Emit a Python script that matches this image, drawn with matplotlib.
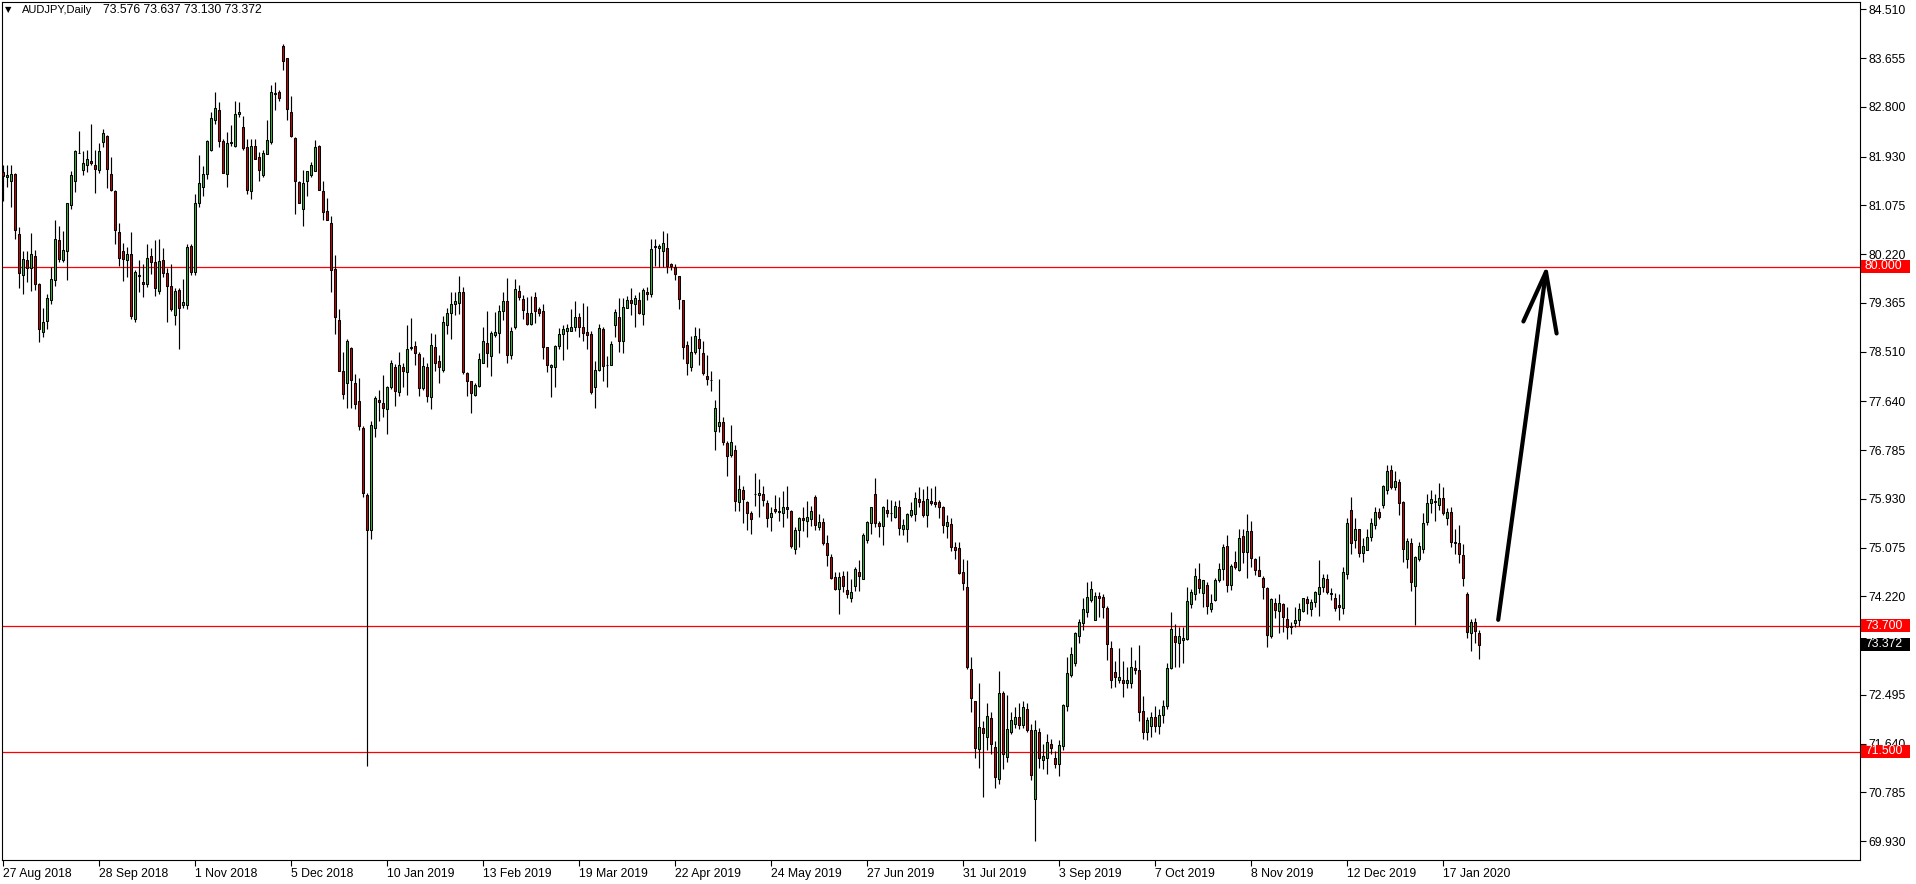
"""AUDJPY daily candlestick chart (MT4 style) with support/resistance levels."""

import matplotlib
matplotlib.use("Agg")
import matplotlib.pyplot as plt
import matplotlib.transforms as mtransforms
from matplotlib.patches import Rectangle
import numpy as np

plt.rcParams["font.family"] = ["Liberation Sans", "DejaVu Sans"]

# Daily OHLC, bar 0 = 27 Aug 2018
OPEN = [
    81.66, 81.58, 81.50, 81.63, 80.58, 79.86, 80.11, 79.97, 80.18, 79.70,
    78.86, 79.05, 79.42, 79.76, 80.47, 80.12, 80.28, 81.09, 81.51, 81.99,
    81.70, 81.78, 81.86, 81.79, 81.69, 82.18, 82.29, 81.63, 81.32, 80.60,
    80.28, 80.11, 80.23, 79.09, 79.85, 79.74, 79.69, 80.18, 80.08, 79.57,
    80.11, 79.89, 79.66, 79.16, 79.59, 79.32, 79.33, 80.36, 79.91, 81.12,
    81.39, 81.63, 82.05, 82.57, 82.74, 82.21, 81.63, 82.16, 82.12, 82.67,
    82.45, 82.09, 81.32, 82.11, 81.93, 81.61, 81.98, 82.19, 83.03, 83.06,
    83.86, 83.65, 82.72, 82.26, 81.48, 81.02, 81.50, 81.61, 81.68, 82.11,
    81.32, 80.98, 80.76, 79.96, 79.07, 78.17, 77.96, 78.57, 77.96, 77.65,
    77.18, 76.00, 75.38, 77.17, 77.67, 77.61, 77.51, 77.89, 78.25, 77.80,
    78.25, 78.15, 78.57, 78.61, 78.47, 77.88, 78.24, 77.71, 78.59, 78.34,
    78.19, 78.98, 79.19, 79.35, 79.36, 79.56, 78.14, 78.00, 77.75, 77.91,
    78.32, 78.66, 78.43, 78.80, 78.84, 79.22, 79.40, 78.45, 78.95, 79.57,
    79.43, 79.19, 79.00, 79.47, 79.26, 79.22, 78.59, 78.24, 78.24, 78.61,
    78.82, 78.87, 78.88, 78.95, 79.12, 78.94, 78.86, 78.82, 77.89, 78.19,
    78.90, 78.28, 78.28, 78.98, 79.12, 78.69, 79.27, 79.42, 79.35, 79.42,
    79.17, 79.56, 79.52, 80.35, 80.33, 80.27, 80.33, 80.04, 79.99, 79.83,
    79.42, 78.62, 78.25, 78.50, 78.73, 78.49, 78.09, 78.02, 77.12, 77.20,
    77.28, 76.91, 76.70, 76.79, 75.88, 76.09, 75.87, 75.68, 76.01, 76.00,
    76.02, 75.86, 75.61, 75.75, 75.71, 75.68, 75.78, 75.72, 75.05, 75.38,
    75.60, 75.54, 75.57, 75.97, 75.43, 75.53, 75.16, 74.92, 74.56, 74.35,
    74.57, 74.34, 74.20, 74.40, 74.65, 74.53, 75.21, 75.50, 76.02, 75.51,
    75.45, 75.74, 75.69, 75.62, 75.78, 75.40, 75.40, 75.65, 75.66, 75.93,
    75.90, 75.65, 75.90, 75.88, 75.88, 75.78, 75.46, 75.49, 75.08, 75.07,
    74.64, 74.38, 72.95, 72.39, 71.54, 71.91, 71.75, 72.09, 71.58, 71.02,
    72.53, 71.40, 71.85, 71.98, 72.10, 71.97, 72.25, 71.88, 70.67, 71.85,
    71.35, 71.38, 71.63, 71.39, 71.28, 71.59, 72.30, 72.84, 73.05, 73.52,
    73.75, 73.94, 74.16, 73.81, 74.23, 74.21, 74.02, 73.31, 72.90, 72.75,
    72.75, 72.70, 72.70, 72.97, 72.93, 72.22, 71.85, 71.95, 72.10, 71.95,
    72.15, 72.30, 72.96, 73.53, 73.40, 73.46, 73.47, 74.09, 74.26, 74.52,
    74.28, 74.42, 74.00, 74.16, 74.51, 74.70, 75.10, 74.42, 74.83, 74.68,
    75.28, 75.00, 75.37, 74.87, 74.68, 74.55, 74.37, 73.52, 74.10, 73.97,
    74.09, 73.82, 73.70, 73.76, 73.81, 73.96, 74.17, 74.00, 74.12, 74.27,
    74.38, 74.52, 74.28, 74.19, 74.07, 74.01, 74.61, 75.73, 75.21, 75.40,
    74.99, 75.04, 75.27, 75.48, 75.70, 75.82, 76.08, 76.43, 76.13, 76.23,
    75.87, 74.87, 75.15, 74.41, 74.87, 75.06, 75.53, 75.85, 75.89, 75.83,
    75.95, 75.60, 75.70, 75.18, 75.15, 74.94, 74.27, 73.58, 73.78, 73.576,
]
HIGH = [
    81.78, 81.79, 81.79, 81.64, 80.70, 80.28, 80.27, 80.59, 80.29, 79.72,
    79.28, 79.52, 80.00, 80.81, 80.71, 80.62, 81.12, 81.67, 82.04, 82.37,
    82.03, 82.05, 82.51, 82.04, 82.16, 82.41, 82.31, 81.93, 81.34, 80.77,
    80.42, 80.35, 80.60, 79.94, 80.11, 80.05, 80.40, 80.33, 80.46, 80.49,
    80.32, 79.97, 80.04, 79.62, 79.62, 79.79, 80.39, 80.40, 81.27, 81.95,
    81.76, 82.22, 82.71, 83.06, 82.89, 82.23, 82.36, 82.48, 82.90, 82.88,
    82.64, 82.24, 82.24, 82.24, 82.01, 82.05, 82.57, 83.19, 83.23, 83.10,
    83.90, 83.65, 83.00, 82.27, 81.50, 81.69, 81.68, 81.84, 82.22, 82.13,
    81.51, 81.21, 80.89, 80.21, 79.26, 78.51, 78.74, 78.59, 78.12, 78.05,
    77.21, 76.03, 77.29, 77.73, 77.84, 78.11, 77.91, 78.36, 78.29, 78.51,
    78.32, 78.98, 79.10, 78.70, 78.50, 78.41, 78.31, 78.83, 78.82, 78.45,
    79.13, 79.27, 79.55, 79.55, 79.84, 79.65, 78.15, 78.00, 77.97, 78.48,
    78.95, 79.23, 78.88, 79.21, 79.33, 79.56, 79.80, 78.95, 79.78, 79.68,
    79.51, 79.47, 79.49, 79.56, 79.29, 79.35, 78.60, 78.29, 78.63, 78.93,
    78.97, 79.00, 79.25, 79.40, 79.18, 79.36, 79.31, 78.88, 78.34, 79.00,
    78.94, 78.44, 78.70, 79.25, 79.46, 79.46, 79.49, 79.63, 79.51, 79.55,
    79.62, 79.64, 80.49, 80.49, 80.39, 80.63, 80.59, 80.06, 80.05, 79.84,
    79.42, 78.70, 78.79, 78.95, 78.93, 78.70, 78.46, 78.18, 77.66, 78.03,
    77.37, 76.94, 77.23, 76.87, 76.35, 76.16, 75.89, 75.72, 76.38, 76.28,
    76.16, 75.91, 75.78, 76.00, 75.96, 76.06, 76.16, 75.73, 75.44, 75.61,
    75.78, 75.90, 75.81, 75.99, 75.66, 75.59, 75.29, 74.96, 74.65, 74.65,
    74.66, 74.67, 74.53, 74.73, 74.85, 75.33, 75.55, 75.79, 76.29, 75.55,
    75.80, 75.92, 75.91, 75.90, 75.91, 75.57, 75.69, 75.87, 76.05, 76.14,
    76.11, 76.16, 76.12, 76.16, 75.91, 75.80, 75.64, 75.59, 75.18, 75.18,
    74.88, 74.85, 73.16, 72.39, 72.70, 72.03, 72.36, 72.19, 71.69, 72.92,
    72.57, 72.50, 72.20, 72.29, 72.36, 72.39, 72.36, 71.98, 72.05, 71.91,
    71.63, 71.80, 71.72, 71.51, 71.71, 72.34, 73.15, 73.33, 73.60, 73.82,
    74.20, 74.48, 74.49, 74.29, 74.29, 74.26, 74.06, 73.44, 73.09, 73.31,
    73.08, 72.98, 73.33, 73.10, 73.37, 72.48, 72.10, 72.20, 72.30, 72.25,
    72.40, 73.06, 73.95, 73.74, 73.69, 73.68, 74.38, 74.35, 74.72, 74.80,
    74.51, 74.47, 74.26, 74.55, 74.80, 75.14, 75.30, 74.79, 75.01, 75.40,
    75.40, 75.66, 75.55, 74.89, 74.93, 74.57, 74.38, 74.20, 74.19, 74.26,
    74.10, 74.03, 73.78, 74.03, 74.10, 74.20, 74.23, 74.17, 74.32, 74.85,
    74.61, 74.61, 74.37, 74.28, 74.26, 74.73, 75.59, 75.96, 75.60, 75.41,
    75.25, 75.41, 75.60, 75.79, 75.77, 76.17, 76.53, 76.52, 76.42, 76.27,
    75.89, 75.25, 75.25, 74.93, 75.18, 75.69, 76.01, 76.08, 76.01, 76.21,
    76.13, 75.77, 75.79, 75.40, 75.47, 75.14, 74.30, 73.82, 73.84, 73.637,
]
LOW = [
    81.16, 81.40, 81.05, 80.49, 79.63, 79.53, 79.73, 79.57, 79.59, 78.68,
    78.77, 78.91, 79.34, 79.66, 80.08, 80.08, 79.77, 81.02, 81.31, 81.99,
    81.60, 81.66, 81.79, 81.29, 81.64, 82.10, 81.38, 81.32, 80.39, 80.02,
    79.75, 79.82, 79.09, 79.03, 79.56, 79.47, 79.64, 79.88, 79.48, 79.53,
    79.82, 79.03, 79.22, 78.97, 78.56, 79.28, 79.26, 79.85, 79.85, 81.04,
    81.24, 81.54, 82.03, 82.50, 82.10, 81.64, 81.39, 82.11, 82.09, 82.62,
    82.04, 81.28, 81.19, 81.89, 81.51, 81.57, 81.97, 82.15, 82.74, 82.90,
    83.44, 82.58, 82.27, 80.93, 81.11, 80.71, 81.24, 81.57, 81.68, 81.34,
    80.82, 80.81, 79.56, 78.82, 78.17, 77.68, 77.52, 77.52, 77.51, 77.14,
    75.97, 71.25, 75.23, 77.01, 77.29, 77.36, 77.07, 77.86, 77.56, 77.74,
    77.89, 77.75, 78.54, 78.27, 77.73, 77.84, 77.62, 77.51, 78.18, 77.96,
    78.15, 78.82, 78.73, 79.16, 79.17, 78.12, 77.73, 77.43, 77.73, 77.90,
    78.31, 78.24, 78.08, 78.77, 78.49, 79.07, 78.32, 78.39, 78.91, 79.42,
    79.08, 78.97, 78.98, 79.02, 79.14, 78.38, 78.15, 77.71, 77.90, 78.55,
    78.36, 78.56, 78.87, 78.88, 78.77, 78.70, 78.56, 77.76, 77.52, 78.18,
    78.00, 77.90, 78.27, 78.77, 78.50, 78.48, 79.27, 79.15, 78.94, 79.17,
    78.98, 79.42, 79.47, 80.01, 79.99, 79.99, 79.89, 79.94, 79.76, 79.26,
    78.38, 78.10, 78.17, 78.47, 78.27, 78.11, 77.93, 77.82, 76.78, 77.11,
    76.88, 76.33, 76.67, 75.71, 75.71, 75.51, 75.38, 75.31, 75.80, 75.61,
    75.81, 75.43, 75.37, 75.68, 75.54, 75.43, 75.59, 75.07, 74.96, 75.08,
    75.37, 75.26, 75.46, 75.38, 75.39, 75.13, 74.76, 74.53, 74.34, 73.91,
    74.29, 74.19, 74.13, 74.32, 74.31, 74.53, 75.15, 75.31, 75.43, 75.26,
    75.12, 75.61, 75.55, 75.59, 75.30, 75.29, 75.17, 75.61, 75.55, 75.78,
    75.61, 75.43, 75.83, 75.78, 75.59, 75.33, 75.24, 75.01, 74.88, 74.61,
    74.33, 72.95, 72.19, 71.38, 71.22, 70.71, 71.53, 71.46, 70.87, 70.94,
    71.19, 71.31, 71.81, 71.91, 71.89, 71.92, 71.85, 71.01, 69.94, 71.22,
    71.19, 71.11, 71.46, 71.22, 71.08, 71.53, 72.22, 72.80, 73.00, 73.40,
    73.64, 73.86, 74.13, 73.80, 73.86, 73.85, 73.10, 72.61, 72.63, 72.71,
    72.45, 72.61, 72.61, 72.86, 72.03, 71.72, 71.71, 71.75, 71.85, 71.80,
    72.00, 72.25, 72.95, 72.98, 72.98, 73.05, 73.45, 74.02, 74.16, 74.28,
    74.03, 73.91, 73.95, 74.14, 74.48, 74.51, 74.29, 74.33, 74.70, 74.67,
    74.80, 74.55, 74.73, 74.60, 74.57, 74.17, 73.34, 73.50, 73.85, 73.58,
    73.59, 73.47, 73.56, 73.69, 73.71, 73.95, 73.91, 73.88, 74.03, 73.87,
    74.29, 74.27, 74.15, 73.96, 73.80, 73.92, 74.52, 74.96, 75.07, 74.91,
    74.83, 75.03, 75.20, 75.41, 75.58, 75.77, 76.01, 76.10, 76.08, 75.65,
    74.83, 74.71, 74.31, 73.72, 74.84, 74.99, 75.48, 75.69, 75.54, 75.73,
    75.65, 75.48, 75.09, 74.97, 74.81, 74.40, 73.50, 73.27, 73.41, 73.130,
]
CLOSE = [
    81.59, 81.60, 81.63, 80.65, 79.89, 80.14, 79.98, 80.23, 79.69, 78.91,
    79.03, 79.46, 79.79, 80.49, 80.14, 80.30, 81.11, 81.60, 82.02, 82.00,
    81.81, 81.89, 81.82, 81.72, 82.02, 82.35, 81.72, 81.34, 80.65, 80.15,
    80.14, 80.23, 79.13, 79.90, 79.84, 79.70, 80.15, 80.08, 79.63, 80.10,
    79.89, 79.66, 79.26, 79.57, 79.28, 79.38, 80.35, 79.91, 81.11, 81.47,
    81.62, 82.20, 82.61, 82.78, 82.20, 81.64, 82.16, 82.19, 82.68, 82.71,
    82.08, 81.34, 82.11, 81.89, 81.69, 82.00, 82.22, 83.06, 83.05, 82.96,
    83.61, 82.77, 82.29, 81.50, 81.12, 81.46, 81.67, 81.79, 82.09, 81.35,
    80.96, 80.82, 79.95, 79.11, 78.18, 77.76, 78.70, 78.01, 77.59, 77.20,
    76.04, 75.38, 77.22, 77.70, 77.62, 77.52, 77.89, 78.31, 77.82, 78.28,
    78.18, 78.56, 78.59, 78.49, 77.87, 78.26, 77.73, 78.63, 78.32, 78.25,
    79.03, 79.19, 79.35, 79.40, 79.56, 78.15, 78.00, 77.78, 77.93, 78.39,
    78.69, 78.48, 78.84, 78.86, 79.22, 79.40, 78.46, 78.88, 79.61, 79.47,
    79.24, 79.00, 79.19, 79.23, 79.18, 78.59, 78.27, 78.28, 78.61, 78.82,
    78.90, 78.93, 78.95, 79.12, 78.94, 78.84, 78.81, 77.80, 78.19, 78.93,
    78.26, 78.27, 78.64, 79.21, 78.69, 79.29, 79.42, 79.36, 79.46, 79.18,
    79.59, 79.52, 80.31, 80.36, 80.37, 80.42, 80.01, 80.01, 79.87, 79.43,
    78.60, 78.31, 78.51, 78.78, 78.57, 78.13, 78.04, 78.01, 77.52, 77.28,
    76.93, 76.68, 76.93, 75.89, 76.10, 75.92, 75.68, 75.58, 76.02, 76.04,
    75.91, 75.59, 75.68, 75.72, 75.70, 75.78, 75.75, 75.10, 75.38, 75.59,
    75.56, 75.62, 75.71, 75.47, 75.53, 75.15, 74.95, 74.55, 74.35, 74.56,
    74.40, 74.27, 74.30, 74.70, 74.57, 75.29, 75.53, 75.78, 75.50, 75.46,
    75.79, 75.69, 75.68, 75.81, 75.42, 75.48, 75.67, 75.74, 75.95, 75.87,
    75.65, 75.92, 75.86, 75.84, 75.79, 75.47, 75.53, 75.09, 75.03, 74.63,
    74.46, 72.99, 72.44, 71.57, 71.94, 71.82, 72.12, 71.64, 71.05, 72.53,
    71.46, 71.89, 72.05, 72.11, 71.97, 72.29, 71.88, 71.09, 71.88, 71.38,
    71.43, 71.66, 71.56, 71.28, 71.62, 72.32, 72.88, 73.21, 73.58, 73.78,
    74.00, 74.21, 74.35, 74.23, 74.20, 74.04, 73.38, 72.75, 72.80, 72.81,
    72.71, 72.75, 72.99, 72.93, 72.20, 71.85, 72.05, 72.10, 71.95, 72.15,
    72.30, 72.96, 73.65, 73.43, 73.53, 73.49, 74.14, 74.30, 74.57, 74.37,
    74.50, 74.05, 74.10, 74.51, 74.70, 75.09, 74.42, 74.75, 74.74, 75.24,
    75.00, 75.37, 74.90, 74.68, 74.57, 74.38, 73.54, 74.18, 73.98, 74.10,
    73.86, 73.69, 73.68, 73.81, 74.00, 74.19, 74.10, 74.12, 74.30, 74.39,
    74.54, 74.30, 74.26, 74.02, 74.04, 74.65, 75.50, 75.15, 75.41, 74.99,
    75.10, 75.27, 75.50, 75.70, 75.62, 76.15, 76.42, 76.13, 76.24, 75.85,
    75.06, 75.19, 74.48, 74.91, 75.10, 75.50, 75.86, 75.92, 75.88, 75.95,
    75.68, 75.70, 75.18, 75.15, 74.96, 74.55, 73.60, 73.78, 73.61, 73.372,
]

# time axis labels: one every 24 bars
DATE_LABELS = [
    "27 Aug 2018", "28 Sep 2018", "1 Nov 2018", "5 Dec 2018", "10 Jan 2019",
    "13 Feb 2019", "19 Mar 2019", "22 Apr 2019", "24 May 2019", "27 Jun 2019",
    "31 Jul 2019", "3 Sep 2019", "7 Oct 2019", "8 Nov 2019", "12 Dec 2019",
    "17 Jan 2020",
]
DATE_STEP = 24

PRICE_TICKS = [84.510, 83.655, 82.800, 81.930, 81.075, 80.220, 79.365, 78.510,
               77.640, 76.785, 75.930, 75.075, 74.220, 72.495, 71.640, 70.785,
               69.930]

LEVELS = [80.000, 73.700, 71.500]
LAST_PRICE = 73.372
SYMBOL = "AUDJPY,Daily"

# hand-drawn arrow (bar index, price)
ARROW_X = [373.8, 385.75]
ARROW_Y = [73.81, 79.91]
ARROW_HEAD_X = [380.1, 385.75, 388.4]
ARROW_HEAD_Y = [79.04, 79.91, 78.83]

BULL = "#2fb82f"
BEAR = "#d20000"
W, H = 1916, 884
AX_L, AX_R, AX_T, AX_B = 2, 1860, 2, 860
PX_PER_BAR = 4.0


def main() -> None:
    o = np.array(OPEN)
    h = np.array(HIGH)
    l = np.array(LOW)
    c = np.array(CLOSE)
    idx = np.arange(len(o))

    fig = plt.figure(figsize=(W / 100, H / 100), dpi=100)
    fig.patch.set_facecolor("white")
    ax = fig.add_axes([AX_L / W, (H - AX_B) / H, (AX_R - AX_L) / W, (AX_B - AX_T) / H])
    ax.set_facecolor("white")

    x0 = -0.25
    ax.set_xlim(x0, x0 + (AX_R - AX_L) / PX_PER_BAR)
    ax.set_ylim(69.60, 84.64)

    # level lines
    for lv in LEVELS:
        ax.axhline(lv, color="#ff0000", linewidth=0.9, zorder=1)

    # candles
    ax.vlines(idx, l, h, color="black", linewidth=0.85, zorder=2)
    bottoms = np.minimum(o, c)
    heights = np.maximum(np.abs(c - o), 0.004)
    colors = [BULL if cc >= oo else BEAR for oo, cc in zip(o, c)]
    ax.bar(idx, heights, bottom=bottoms, width=0.56, color=colors,
           edgecolor="black", linewidth=0.75, zorder=3)

    # arrow
    ax.plot(ARROW_X, ARROW_Y, color="black", linewidth=3.0,
            solid_capstyle="round", zorder=4)
    ax.plot(ARROW_HEAD_X, ARROW_HEAD_Y, color="black", linewidth=3.0,
            solid_capstyle="round", solid_joinstyle="round", zorder=4)

    # frame
    for sp in ax.spines.values():
        sp.set_color("black")
        sp.set_linewidth(0.8)

    # price axis on the right
    ax.yaxis.tick_right()
    ax.set_yticks(PRICE_TICKS)
    ax.set_yticklabels([f"{v:.3f}" for v in PRICE_TICKS])
    ax.tick_params(axis="y", direction="out", length=4, width=0.8, pad=2,
                   labelsize=8.8, colors="black")

    # date axis
    ticks = [i * DATE_STEP for i in range(len(DATE_LABELS))]
    ax.set_xticks(ticks)
    ax.set_xticklabels(DATE_LABELS, ha="left")
    ax.tick_params(axis="x", direction="out", length=4, width=0.8, pad=2,
                   labelsize=8.8, colors="black")

    # price tags on the right axis
    trans = mtransforms.blended_transform_factory(ax.transAxes, ax.transData)
    bw = 49 / (AX_R - AX_L)
    bh = 13 / ((AX_B - AX_T) / (84.64 - 69.60))
    tags = [(lv, "#ff0000") for lv in LEVELS] + [(LAST_PRICE, "black")]
    for price, fc in tags:
        ax.add_patch(Rectangle((1.0005, price - bh / 2 + 0.01), bw, bh,
                               transform=trans, facecolor=fc, edgecolor="none",
                               clip_on=False, zorder=10))
        ax.text(1.0 + 5 / (AX_R - AX_L), price + 0.01, f"{price:.3f}",
                transform=trans, color="white", fontsize=8.8,
                ha="left", va="center", clip_on=False, zorder=11)

    # header
    fig.text(5 / W, 1 - 10 / H, "\u25bc", fontsize=6, ha="left", va="center",
             family=["DejaVu Sans"])
    fig.text(22 / W, 1 - 10 / H, SYMBOL, fontsize=8, ha="left", va="center")
    fig.text(103 / W, 1 - 10 / H,
             f"{OPEN[-1]:.3f} {HIGH[-1]:.3f} {LOW[-1]:.3f} {CLOSE[-1]:.3f}",
             fontsize=8.8, ha="left", va="center")

    fig.savefig("out.png", dpi=100, facecolor="white")
    plt.close(fig)


if __name__ == "__main__":
    main()
